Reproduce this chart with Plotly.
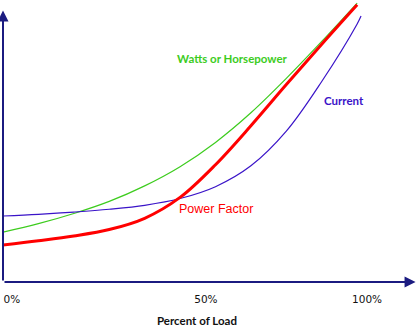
import plotly.graph_objects as go

# Percent of load (x) and relative value (y) for each motor characteristic
load = [0, 10, 20, 30, 40, 50, 60, 70, 80, 90, 100]
watts = [17.7, 20.7, 24.3, 28.6, 34.1, 40.9, 49.5, 60.0, 72.2, 85.3, 98.9]
power_factor = [13.1, 14.6, 16.3, 18.6, 22.6, 30.0, 41.6, 55.4, 70.0, 84.3, 98.3]
current_load = [0, 10, 20, 30, 40, 50, 60, 70, 80, 90, 100, 101.1]
current = [23.4, 24.0, 24.8, 25.8, 27.2, 29.6, 33.8, 41.2, 53.5, 71.1, 91.5, 94.3]

tick_pos = [2.5, 57.3, 102.8]
tick_labels = ["0%", "50%", "100%"]

AXIS = "#1b1b80"
GREEN = "#3dcc1e"
BLUE = "#3a14c8"
RED = "#ff0000"

fig = go.Figure()
fig.add_trace(go.Scatter(x=load, y=watts, mode="lines", line=dict(color=GREEN, width=1.2, shape="spline"),
                         hoverinfo="skip"))
fig.add_trace(go.Scatter(x=current_load, y=current, mode="lines", line=dict(color=BLUE, width=1.2, shape="spline"),
                         hoverinfo="skip"))
fig.add_trace(go.Scatter(x=load, y=power_factor, mode="lines", line=dict(color=RED, width=3, shape="spline"),
                         hoverinfo="skip"))

# axes drawn as arrows
fig.add_annotation(x=0, y=96.3, ax=0, ay=0, xref="x", yref="y", axref="x", ayref="y", text="",
                   showarrow=True, arrowhead=2, arrowsize=1.1, arrowwidth=2, arrowcolor=AXIS)
fig.add_annotation(x=116.5, y=0, ax=0, ay=0, xref="x", yref="y", axref="x", ayref="y", text="",
                   showarrow=True, arrowhead=2, arrowsize=1.1, arrowwidth=2, arrowcolor=AXIS)

# curve labels
fig.add_annotation(x=64.7, y=79.1, text="<b>Watts or Horsepower</b>", showarrow=False,
                   font=dict(family="Lato", size=11.5, color=GREEN))
fig.add_annotation(x=96.2, y=64.5, text="<b>Current</b>", showarrow=False,
                   font=dict(family="Lato", size=11.5, color=BLUE))
fig.add_annotation(x=60.2, y=25.9, text="Power Factor", showarrow=False,
                   font=dict(family="Liberation Sans", size=12.5, color=RED))
fig.add_annotation(x=54.8, y=-0.135, xref="x", yref="paper", yanchor="middle",
                   text="<b>Percent of Load</b>", showarrow=False,
                   font=dict(family="Lato", size=11.5, color="#111111"))

fig.update_layout(
    width=417, height=328,
    margin=dict(l=3, r=0, t=0, b=46),
    paper_bgcolor="white", plot_bgcolor="white",
    showlegend=False,
    xaxis=dict(range=[0, 116.9], showgrid=False, zeroline=False, showline=False,
               tickmode="array", tickvals=tick_pos, ticktext=tick_labels, ticks="",
               ticklabelstandoff=9,
               tickfont=dict(family="DejaVu Sans", size=10.5, color="#111111"), fixedrange=True),
    yaxis=dict(range=[0, 100], showgrid=False, zeroline=False, showline=False,
               showticklabels=False, ticks="", fixedrange=True),
)

fig.write_html("out.html", config={"displayModeBar": False})
